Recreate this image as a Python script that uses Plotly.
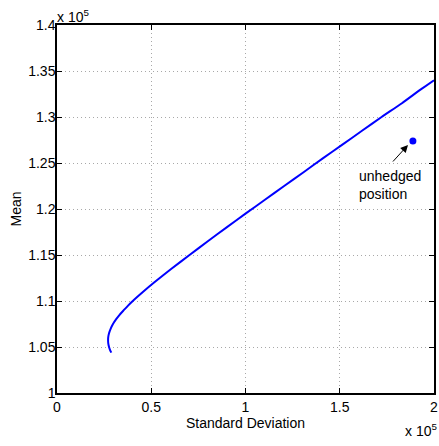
import plotly.graph_objects as go

# Efficient frontier (values in units of 1e5)
std_dev = [0.288, 0.281, 0.276, 0.272, 0.271, 0.272, 0.276, 0.285, 0.297, 0.313, 0.332, 0.354,
           0.377, 0.402, 0.457, 0.515, 0.607, 0.703, 0.800, 0.900, 1.000, 1.103, 1.205, 1.308,
           1.410, 1.514, 1.618, 1.722, 1.830, 1.930, 2.000]
mean = [1.0438, 1.0470, 1.0500, 1.0540, 1.0576, 1.0610, 1.0650, 1.0700, 1.0750, 1.0800, 1.0850, 1.0900,
        1.0950, 1.1000, 1.1100, 1.1200, 1.1350, 1.1500, 1.1650, 1.1800, 1.1950, 1.2100, 1.2250, 1.2400,
        1.2550, 1.2700, 1.2850, 1.3000, 1.3150, 1.3300, 1.3400]

unhedged_x = [1.888]
unhedged_y = [1.274]

x_ticks = [0, 0.5, 1, 1.5, 2]
x_tick_labels = ["0", "0.5", "1", "1.5", "2"]
y_ticks = [1, 1.05, 1.1, 1.15, 1.2, 1.25, 1.3, 1.35, 1.4]
y_tick_labels = ["1", "1.05", "1.1", "1.15", "1.2", "1.25", "1.3", "1.35", "1.4"]

font = "Liberation Sans, Arial, Helvetica, sans-serif"

fig = go.Figure()
fig.add_trace(go.Scatter(x=std_dev, y=mean, mode="lines", line=dict(color="#0000ff", width=2, shape="spline", smoothing=0.6),
                         showlegend=False, hoverinfo="skip"))
fig.add_trace(go.Scatter(x=unhedged_x, y=unhedged_y, mode="markers",
                         marker=dict(color="#0000ff", size=7), showlegend=False))

axis_common = dict(showline=True, linecolor="black", linewidth=1.5, mirror="ticks", ticks="inside",
                   ticklen=5, tickcolor="black", showgrid=True, gridcolor="#a8a8a8", griddash="1px,3px",
                   gridwidth=1, zeroline=False, automargin=False,
                   tickfont=dict(family=font, size=14, color="black"))

fig.update_xaxes(range=[0, 2], tickvals=x_ticks, ticktext=x_tick_labels,
                 title=dict(text="Standard Deviation", font=dict(family=font, size=14, color="black"), standoff=2),
                 **axis_common)
fig.update_yaxes(range=[1, 1.4], tickvals=y_ticks, ticktext=y_tick_labels, ticklabelstandoff=-3,
                 title=dict(text="Mean", font=dict(family=font, size=14, color="black"), standoff=3),
                 **axis_common)

fig.add_annotation(x=1.862, y=1.2696, ax=1.775, ay=1.250, xref="x", yref="y", axref="x", ayref="y",
                   text="", showarrow=True, arrowhead=2, arrowsize=1.5, arrowwidth=1, arrowcolor="black")
fig.add_annotation(x=1.59, y=1.2465, xref="x", yref="y", xanchor="left", yanchor="top",
                   text="unhedged<br>position", showarrow=False, align="left",
                   font=dict(family=font, size=14, color="black"))
fig.add_annotation(x=0, y=1, xref="paper", yref="paper", xanchor="left", yanchor="bottom", yshift=-2, xshift=-2,
                   text="x 10<sup>5</sup>", showarrow=False, font=dict(family=font, size=14, color="black"))
fig.add_annotation(x=1, y=0, xref="paper", yref="paper", xanchor="right", yanchor="top", yshift=-26, xshift=5,
                   text="x 10<sup>5</sup>", showarrow=False, font=dict(family=font, size=14, color="black"))

fig.update_layout(width=439, height=446, margin=dict(l=57, r=5, t=25, b=53),
                  paper_bgcolor="white", plot_bgcolor="white", font=dict(family=font, size=14, color="black"))

fig.write_html("out.html")
